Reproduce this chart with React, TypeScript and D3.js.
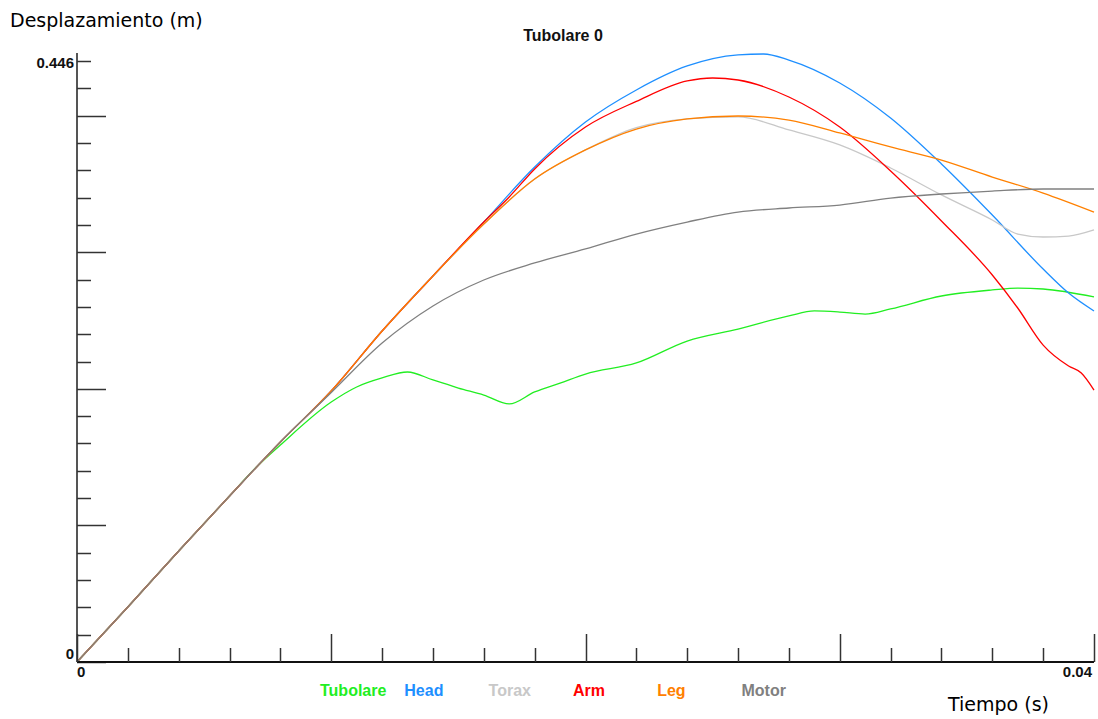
import { useEffect, useRef } from "react";
import * as d3 from "d3";

// [time (s), displacement (m)]
const tubolare: [number, number][] = [
  [0, 0], [0.002, 0.0408], [0.004, 0.0824], [0.006, 0.1232], [0.007, 0.1436],
  [0.008, 0.161], [0.01, 0.1929], [0.011, 0.2041], [0.012, 0.2108], [0.013, 0.2152],
  [0.014, 0.2093], [0.015, 0.2033], [0.016, 0.1981], [0.017, 0.1915], [0.018, 0.2004],
  [0.019, 0.207], [0.02, 0.2137], [0.022, 0.2219], [0.024, 0.2382], [0.026, 0.2471],
  [0.028, 0.2568], [0.029, 0.2605], [0.03, 0.2597], [0.031, 0.2582], [0.032, 0.262],
  [0.034, 0.2716], [0.036, 0.2761], [0.037, 0.2775], [0.038, 0.2768], [0.04, 0.2709],
];
const head: [number, number][] = [
  [0, 0], [0.002, 0.0408], [0.004, 0.0824], [0.006, 0.1232], [0.008, 0.1633],
  [0.01, 0.2011], [0.012, 0.2456], [0.014, 0.2865], [0.016, 0.3265], [0.018, 0.3673],
  [0.02, 0.4007], [0.022, 0.4245], [0.024, 0.4423], [0.026, 0.4505], [0.027, 0.4512],
  [0.028, 0.4467], [0.03, 0.4297], [0.032, 0.4037], [0.034, 0.3696], [0.036, 0.3317],
  [0.038, 0.2916], [0.039, 0.2738], [0.04, 0.2605],
];
const torax: [number, number][] = [
  [0, 0], [0.002, 0.0408], [0.004, 0.0824], [0.006, 0.1232], [0.008, 0.1633],
  [0.01, 0.2011], [0.012, 0.2456], [0.014, 0.2865], [0.016, 0.325], [0.018, 0.3584],
  [0.02, 0.38], [0.022, 0.3965], [0.024, 0.403], [0.026, 0.4045], [0.028, 0.3948],
  [0.03, 0.3837], [0.032, 0.3666], [0.034, 0.3466], [0.036, 0.328], [0.037, 0.3176],
  [0.038, 0.3154], [0.039, 0.3161], [0.04, 0.3206],
];
const arm: [number, number][] = [
  [0, 0], [0.002, 0.0408], [0.004, 0.0824], [0.006, 0.1232], [0.008, 0.1633],
  [0.01, 0.2011], [0.012, 0.2456], [0.014, 0.2865], [0.016, 0.3265], [0.017, 0.3451],
  [0.018, 0.3659], [0.02, 0.397], [0.022, 0.416], [0.024, 0.4312], [0.025, 0.4334],
  [0.026, 0.4319], [0.028, 0.4193], [0.03, 0.397], [0.032, 0.3644], [0.034, 0.3273],
  [0.036, 0.2872], [0.037, 0.2627], [0.038, 0.2352], [0.039, 0.2197], [0.0395, 0.2145],
  [0.04, 0.2018],
];
const leg: [number, number][] = [
  [0, 0], [0.002, 0.0408], [0.004, 0.0824], [0.006, 0.1232], [0.008, 0.1633],
  [0.01, 0.2011], [0.012, 0.2456], [0.014, 0.2865], [0.016, 0.325], [0.018, 0.3584],
  [0.02, 0.38], [0.022, 0.3955], [0.024, 0.403], [0.026, 0.4052], [0.028, 0.4022],
  [0.03, 0.3926], [0.032, 0.3822], [0.034, 0.3725], [0.036, 0.3599], [0.038, 0.348],
  [0.04, 0.3339],
];
const motor: [number, number][] = [
  [0, 0], [0.002, 0.0408], [0.004, 0.0824], [0.006, 0.1232], [0.008, 0.1633],
  [0.01, 0.2], [0.012, 0.2367], [0.014, 0.2642], [0.016, 0.2835], [0.018, 0.2961],
  [0.02, 0.3065], [0.022, 0.3176], [0.024, 0.3265], [0.026, 0.3339], [0.028, 0.3369],
  [0.03, 0.3391], [0.032, 0.3443], [0.034, 0.3473], [0.036, 0.3495], [0.038, 0.351],
  [0.04, 0.351],
];

const seriesNames = ["Tubolare", "Head", "Torax", "Arm", "Leg", "Motor"];
const seriesColors = ["#22ee22", "#1e8fff", "#c8c8c8", "#ff0000", "#ff8000", "#808080"];
const seriesData = [tubolare, head, torax, arm, leg, motor];

const yMax = 0.446;
const tMax = 0.04;
const yTickLabels = ["0", "0.446"];
const xTickLabels = ["0", "0.04"];

export default function App() {
  const svgRef = useRef<SVGSVGElement>(null);

  useEffect(() => {
    if (!svgRef.current) return;
    const width = 1098;
    const height = 719;
    const margin = { top: 61, right: 4, bottom: 57, left: 77 };

    const svg = d3.select(svgRef.current);
    svg.selectAll("*").remove();

    const x = d3.scaleLinear().domain([0, tMax]).range([margin.left, width - margin.right]);
    const y = d3.scaleLinear().domain([0, yMax]).range([height - margin.bottom, margin.top]);

    const labelFont = "'Liberation Sans', Arial, sans-serif";
    const titleFont = "'DejaVu Sans', Verdana, sans-serif";

    // curves
    const line = d3.line<[number, number]>()
      .x(d => x(d[0]))
      .y(d => y(d[1]))
      .curve(d3.curveMonotoneX);

    svg.append("g")
      .selectAll("path")
      .data(seriesData)
      .join("path")
      .attr("d", d => line(d))
      .attr("fill", "none")
      .attr("stroke", (d, i) => seriesColors[i])
      .attr("stroke-width", 1.3);

    // y axis with ticks
    const yTicks = d3.range(23).map(i => (yMax * i) / 22);
    const gy = svg.append("g");
    gy.append("line")
      .attr("x1", x(0)).attr("x2", x(0))
      .attr("y1", 53).attr("y2", y(0))
      .attr("stroke", "#555").attr("stroke-width", 2);
    gy.selectAll("line.tick")
      .data(yTicks)
      .join("line")
      .attr("class", "tick")
      .attr("x1", x(0))
      .attr("x2", (d, i) => x(0) + (i % 5 === 0 ? 29 : 14))
      .attr("y1", d => Math.round(y(d)) + 0.5)
      .attr("y2", d => Math.round(y(d)) + 0.5)
      .attr("stroke", "#333").attr("stroke-width", 1.5);

    // x axis with ticks
    const xTicks = d3.range(21).map(i => (tMax * i) / 20);
    const gx = svg.append("g");
    gx.append("line")
      .attr("x1", x(0)).attr("x2", x(tMax))
      .attr("y1", y(0)).attr("y2", y(0))
      .attr("stroke", "#111").attr("stroke-width", 2);
    gx.selectAll("line.tick")
      .data(xTicks)
      .join("line")
      .attr("class", "tick")
      .attr("x1", d => Math.round(x(d)) + 0.5)
      .attr("x2", d => Math.round(x(d)) + 0.5)
      .attr("y1", y(0))
      .attr("y2", (d, i) => y(0) - (i % 5 === 0 ? 28 : 14))
      .attr("stroke", "#333").attr("stroke-width", 1.5);

    // tick labels
    svg.append("g")
      .selectAll("text")
      .data(yTickLabels)
      .join("text")
      .attr("x", x(0) - 3)
      .attr("y", d => y(+d) + (+d === 0 ? -3 : 7))
      .attr("text-anchor", "end")
      .attr("font-family", labelFont)
      .attr("font-weight", "bold")
      .attr("font-size", 15)
      .attr("fill", "#111")
      .text(d => d);

    svg.append("g")
      .selectAll("text")
      .data(xTickLabels)
      .join("text")
      .attr("x", d => (+d === 0 ? x(0) : x(+d) - 2))
      .attr("y", y(0) + 15)
      .attr("text-anchor", d => (+d === 0 ? "start" : "end"))
      .attr("font-family", labelFont)
      .attr("font-weight", "bold")
      .attr("font-size", 15)
      .attr("fill", "#111")
      .text(d => d);

    // titles
    svg.append("text")
      .attr("x", 10).attr("y", 27)
      .attr("font-family", titleFont).attr("font-size", 19)
      .attr("fill", "#000")
      .text("Desplazamiento (m)");

    svg.append("text")
      .attr("x", 948).attr("y", 711)
      .attr("font-family", titleFont).attr("font-size", 19)
      .attr("fill", "#000")
      .text("Tiempo (s)");

    svg.append("text")
      .attr("x", 563).attr("y", 41)
      .attr("text-anchor", "middle")
      .attr("font-family", labelFont).attr("font-weight", "bold").attr("font-size", 16)
      .attr("fill", "#111")
      .text("Tubolare 0");

    // legend
    svg.append("g")
      .selectAll("text")
      .data(seriesNames)
      .join("text")
      .attr("x", (d, i) => 320 + i * 84.3)
      .attr("y", 696)
      .attr("font-family", labelFont)
      .attr("font-weight", "bold")
      .attr("font-size", 16)
      .attr("fill", (d, i) => seriesColors[i])
      .text(d => d);
  }, []);

  return (
    <svg
      ref={svgRef}
      width={1098}
      height={719}
      style={{ position: "fixed", left: 0, top: 0, background: "#fff" }}
    />
  );
}
